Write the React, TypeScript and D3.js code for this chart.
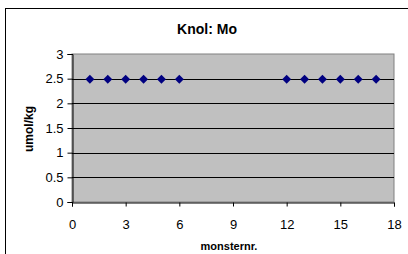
import { useEffect, useRef } from "react";
import * as d3 from "d3";

const sampleNr = [1, 2, 3, 4, 5, 6, 12, 13, 14, 15, 16, 17];
const moValues = [2.5, 2.5, 2.5, 2.5, 2.5, 2.5, 2.5, 2.5, 2.5, 2.5, 2.5, 2.5];
const xTicks = [0, 3, 6, 9, 12, 15, 18];
const yTicks = [0, 0.5, 1, 1.5, 2, 2.5, 3];

export default function App() {
    const svgRef = useRef<SVGSVGElement>(null);

    useEffect(() => {
        if (!svgRef.current) return;
        const svg = d3.select(svgRef.current);
        svg.selectAll("*").remove();

        const font = "'Liberation Sans', Arial, sans-serif";
        const left = 72, right = 394, top = 54, bottom = 202;

        const x = d3.scaleLinear().domain([0, 18]).range([left, right]);
        const y = d3.scaleLinear().domain([0, 3]).range([bottom, top]);

        // outer chart frame
        svg.append("rect")
            .attr("x", 5.5).attr("y", 8.5)
            .attr("width", 420).attr("height", 260)
            .attr("fill", "#fff").attr("stroke", "#000").attr("stroke-width", 1);

        // plot area
        svg.append("rect")
            .attr("x", left).attr("y", top)
            .attr("width", right - left).attr("height", bottom - top)
            .attr("fill", "#c0c0c0").attr("stroke", "#808080").attr("stroke-width", 1);

        // gridlines
        svg.append("g")
            .selectAll("line")
            .data(yTicks.filter(t => t > 0 && t < 3))
            .enter()
            .append("line")
            .attr("x1", left).attr("x2", right)
            .attr("y1", d => Math.round(y(d)) + 0.5).attr("y2", d => Math.round(y(d)) + 0.5)
            .attr("stroke", "#000").attr("stroke-width", 1);

        // axes
        const yAxis = svg.append("g")
            .attr("transform", `translate(${left + 0.5},0)`)
            .call(d3.axisLeft(y).tickValues(yTicks).tickSize(5).tickPadding(4).tickFormat(d => String(d)));
        const xAxis = svg.append("g")
            .attr("transform", `translate(0,${bottom + 0.5})`)
            .call(d3.axisBottom(x).tickValues(xTicks).tickSize(4).tickPadding(13).tickFormat(d => String(d)));

        [yAxis, xAxis].forEach(g => {
            g.select(".domain").attr("stroke", "#000");
            g.selectAll(".tick line").attr("stroke", "#000");
            g.selectAll("text").attr("fill", "#000").attr("font-family", font).attr("font-size", 13);
        });

        // points
        const diamond = d3.symbol().type(d3.symbolSquare).size(40);
        svg.append("g")
            .selectAll("path")
            .data(sampleNr)
            .enter()
            .append("path")
            .attr("d", diamond)
            .attr("transform", (d, i) => `translate(${x(d)},${y(moValues[i]) + 0.5}) rotate(45)`)
            .attr("fill", "#000080");

        // titles
        svg.append("text")
            .attr("x", 207).attr("y", 34)
            .attr("text-anchor", "middle")
            .attr("font-family", font).attr("font-weight", "bold").attr("font-size", 14)
            .text("Knol: Mo");

        svg.append("text")
            .attr("x", 229).attr("y", 250)
            .attr("text-anchor", "middle")
            .attr("font-family", font).attr("font-weight", "bold").attr("font-size", 11)
            .text("monsternr.");

        svg.append("text")
            .attr("transform", `translate(33,129) rotate(-90)`)
            .attr("text-anchor", "middle")
            .attr("font-family", font).attr("font-weight", "bold").attr("font-size", 12)
            .text("umol/kg");
    }, []);

    return (
        <svg ref={svgRef} width={408} height={254}
            style={{ position: "absolute", left: 0, top: 0, display: "block" }} />
    );
}
